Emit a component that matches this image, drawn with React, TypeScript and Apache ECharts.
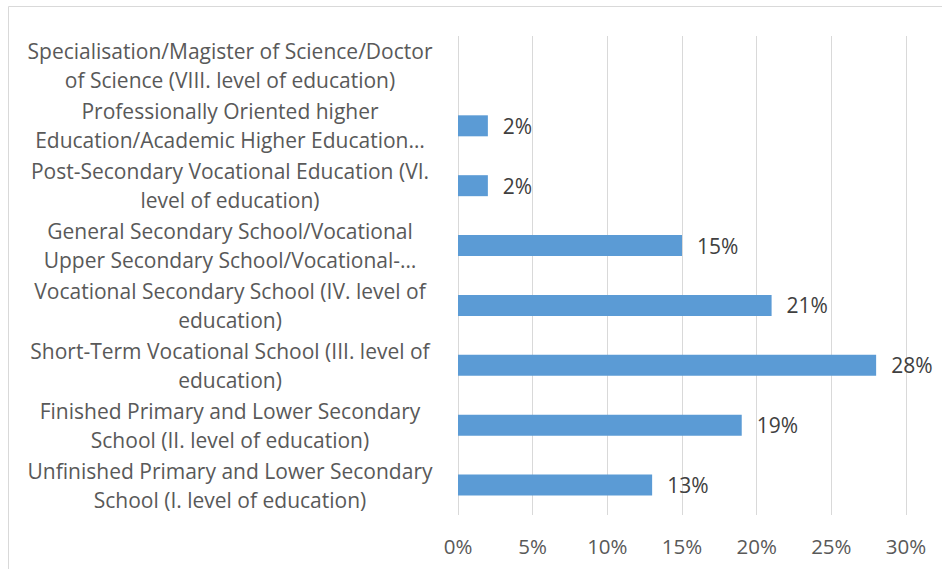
import React, { useEffect, useRef } from "react";
import * as echarts from "echarts";

const categories = [
  "Unfinished Primary and Lower Secondary\nSchool (I. level of education)",
  "Finished Primary and Lower Secondary\nSchool (II. level of education)",
  "Short-Term Vocational School (III. level of\neducation)",
  "Vocational Secondary School (IV. level of\neducation)",
  "General Secondary School/Vocational\nUpper Secondary School/Vocational-…",
  "Post-Secondary Vocational Education (VI.\nlevel of education)",
  "Professionally Oriented higher\nEducation/Academic Higher Education…",
  "Specialisation/Magister of Science/Doctor\nof Science (VIII. level of education)",
];
const values = [13, 19, 28, 21, 15, 2, 2, null];
const FONT = "Open Sans";

export default function App() {
  const ref = useRef<HTMLDivElement>(null);
  useEffect(() => {
    const chart = echarts.init(ref.current!, null, { renderer: "svg" });
    chart.setOption({
      animation: false,
      backgroundColor: "#ffffff",
      grid: { left: 458, right: 36, top: 36, bottom: 54 },
      graphic: [
        {
          type: "rect",
          shape: { x: 8.5, y: 6.5, width: 1000, height: 700 },
          style: { fill: "none", stroke: "#d9d9d9", lineWidth: 1 },
          silent: true,
        },
      ],
      xAxis: {
        type: "value",
        min: 0,
        max: 30,
        interval: 5,
        axisLine: { show: false },
        axisTick: { show: false },
        splitLine: { lineStyle: { color: "#d9d9d9", width: 1 } },
        axisLabel: {
          formatter: "{value}%",
          color: "#595959",
          fontFamily: FONT,
          fontSize: 20.5,
          margin: 20,
        },
      },
      yAxis: {
        type: "category",
        data: categories,
        axisLine: { show: false },
        axisTick: { show: false },
        axisLabel: {
          align: "center",
          margin: 228,
          color: "#595959",
          fontFamily: FONT,
          fontSize: 21,
          lineHeight: 29,
        },
      },
      series: [
        {
          type: "bar",
          data: values,
          barWidth: 21,
          itemStyle: { color: "#5b9bd5" },
          label: {
            show: true,
            position: "right",
            distance: 15,
            formatter: "{c}%",
            color: "#404040",
            fontFamily: FONT,
            fontSize: 21,
          },
        },
      ],
    });
    return () => chart.dispose();
  }, []);
  return (
    <div
      ref={ref}
      style={{ position: "absolute", left: 0, top: 0, width: 942, height: 569 }}
    />
  );
}
